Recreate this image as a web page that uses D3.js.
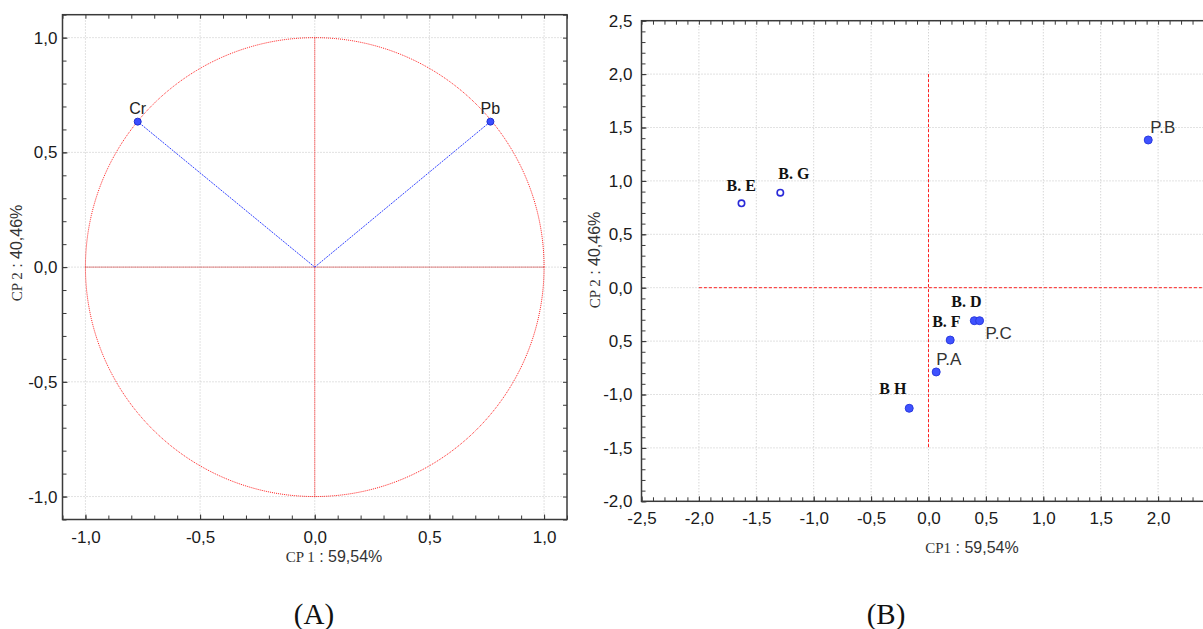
<!DOCTYPE html>
<html><head><meta charset="utf-8">
<script src="https://cdn.jsdelivr.net/npm/d3@7"></script>
<style>
body{margin:0;background:#fff;}
svg{display:block;}
</style></head>
<body><svg id="c" width="1203" height="629"></svg>
<script>
// ---------- DATA ----------
// Panel A: variable loadings (correlation circle)
const varNames = ["Cr", "Pb"];
const varCP1 = [-0.772, 0.766];
const varCP2 = [0.634, 0.634];
const leftTicks = [-1.0, -0.5, 0.0, 0.5, 1.0];
const leftTickLabels = ["-1,0", "-0,5", "0,0", "0,5", "1,0"];

// Panel B: sample scores
const sampleNames = ["B. E", "B. G", "P.B", "B. D", "P.C", "B. F", "P.A", "B H"];
const sampleCP1 = [-1.629, -1.291, 1.914, 0.399, 0.445, 0.189, 0.067, -0.168];
const sampleCP2 = [0.790, 0.890, 1.383, -0.309, -0.309, -0.490, -0.789, -1.129];
const sampleOpen = [true, true, false, false, false, false, false, false];
const sampleSerif = [true, true, false, true, false, true, false, true];
const rightXTicks = [-2.5, -2.0, -1.5, -1.0, -0.5, 0.0, 0.5, 1.0, 1.5, 2.0];
const rightXTickLabels = ["-2,5", "-2,0", "-1,5", "-1,0", "-0,5", "0,0", "0,5", "1,0", "1,5", "2,0"];
const rightYTicks = [-2.0, -1.5, -1.0, -0.5, 0.0, 0.5, 1.0, 1.5, 2.0, 2.5];
const rightYTickLabels = ["-2,0", "-1,5", "-1,0", "0,5", "0,0", "0,5", "1,0", "1,5", "2,0", "2,5"];

// ---------- LAYOUT / STYLE ----------
const labelOffsets = { // [dx, dy] of label anchor relative to point (text-anchor start, baseline)
  "B. E": [-15, -12], "B. G": [-2, -14], "P.B": [2, -7], "B. D": [-23, -14],
  "P.C": [6, 18], "B. F": [-18, -13], "P.A": [0, -7], "B H": [-30, -14]
};
const SANS = '"Liberation Sans",Arial,sans-serif';
const SERIF = '"Liberation Serif","Times New Roman",serif';
const svg = d3.select("#c");
const FRAME = "#3a3a3a", GRID = "#c4c4c4", RED = "#ff2020", BLUE = "#3344ff";

function grid(g, x, y, xMajor, yMajor) {
  const [x0, x1] = x.range(), [y0, y1] = y.range();
  g.append("g").selectAll("line").data(xMajor).join("line")
    .attr("x1", d => x(d)).attr("x2", d => x(d)).attr("y1", y0).attr("y2", y1)
    .attr("stroke", GRID).attr("stroke-dasharray", "1,2").attr("stroke-width", 1);
  g.append("g").selectAll("line").data(yMajor).join("line")
    .attr("y1", d => y(d)).attr("y2", d => y(d)).attr("x1", x0).attr("x2", x1)
    .attr("stroke", GRID).attr("stroke-dasharray", "1,2").attr("stroke-width", 1);
}

function drawAxes(g, x, y, opts) {
  const [x0, x1] = x.range(), [y0, y1] = y.range();
  const fmtX = d => opts.xLabels[opts.xTicks.indexOf(d)];
  const fmtY = d => opts.yLabels[opts.yTicks.indexOf(d)];
  const mk = (axis, tr) => g.append("g").attr("transform", tr).call(axis)
    .call(s => s.select(".domain").remove())
    .call(s => s.selectAll("line").attr("stroke", FRAME))
    .call(s => s.selectAll("text").remove());
  mk(d3.axisBottom(x).tickValues(opts.xMinor).tickSize(-4), `translate(0,${y0})`);
  mk(d3.axisTop(x).tickValues(opts.xMinor).tickSize(-4), `translate(0,${y1})`);
  mk(d3.axisLeft(y).tickValues(opts.yMinor).tickSize(-4), `translate(${x0},0)`);
  if (opts.rightSide) mk(d3.axisRight(y).tickValues(opts.yMinor).tickSize(-4), `translate(${x1},0)`);
  const lab = (axis, tr) => g.append("g").attr("transform", tr).call(axis)
    .call(s => s.select(".domain").remove())
    .call(s => s.selectAll("line").attr("stroke", FRAME))
    .call(s => s.selectAll("text").style("font-family", SANS)
      .style("font-size", opts.fs + "px").attr("fill", "#1a1a1a"));
  lab(d3.axisBottom(x).tickValues(opts.xTicks).tickSize(-5).tickPadding(opts.padX).tickFormat(fmtX), `translate(0,${y0})`);
  lab(d3.axisLeft(y).tickValues(opts.yTicks).tickSize(-5).tickPadding(opts.padY).tickFormat(fmtY), `translate(${x0},0)`);
  g.append("rect").attr("x", x0).attr("y", y1).attr("width", x1 - x0).attr("height", y0 - y1)
    .attr("fill", "none").attr("stroke", FRAME).attr("stroke-width", 1.5);
}

function mixedTitle(g, x, y, serifPart, sansPart, rotate, bg) {
  const t = g.append("text").attr("text-anchor", "middle")
    .attr("transform", `translate(${x},${y})` + (rotate ? " rotate(-90)" : ""));
  t.append("tspan").style("font-family", SERIF).style("font-size", "15px")
    .attr("fill", "#333").text(serifPart);
  t.append("tspan").style("font-family", SANS).style("font-size", "16px")
    .attr("fill", "#333").text(sansPart);
  if (bg) {
    const b = t.node().getBBox();
    g.insert("rect", () => t.node()).attr("transform", t.attr("transform"))
      .attr("x", b.x - 1).attr("y", b.y + 3).attr("width", b.width + 2).attr("height", b.height - 5)
      .attr("fill", "#fff");
  }
  return t;
}

// ---------- PANEL A ----------
{
  const g = svg.append("g");
  const x = d3.scaleLinear().domain([-1.1, 1.1]).range([62.5, 567]);
  const y = d3.scaleLinear().domain([-1.1, 1.1]).range([519.5, 14.7]);
  const minor = d3.range(-11, 12).map(i => i / 10);
  grid(g, x, y, leftTicks, leftTicks);
  const circ = d3.range(0, 361, 1).map(a => [Math.cos(a * Math.PI / 180), Math.sin(a * Math.PI / 180)]);
  g.append("path").attr("d", d3.line().x(d => x(d[0])).y(d => y(d[1]))(circ))
    .attr("fill", "none").attr("stroke", RED).attr("stroke-width", 1).attr("stroke-dasharray", "1,1");
  g.append("line").attr("x1", x(-1)).attr("x2", x(1)).attr("y1", y(0)).attr("y2", y(0))
    .attr("stroke", "#c81010").attr("stroke-dasharray", "1,1");
  g.append("line").attr("x1", x(0)).attr("x2", x(0)).attr("y1", y(1)).attr("y2", y(-1))
    .attr("stroke", RED).attr("stroke-dasharray", "1,1");
  g.append("g").selectAll("line").data(varNames).join("line")
    .attr("x1", x(0)).attr("y1", y(0))
    .attr("x2", (d, i) => x(varCP1[i])).attr("y2", (d, i) => y(varCP2[i]))
    .attr("stroke", BLUE).attr("stroke-width", 1).attr("stroke-dasharray", "2,1");
  g.append("g").selectAll("circle").data(varNames).join("circle")
    .attr("cx", (d, i) => x(varCP1[i])).attr("cy", (d, i) => y(varCP2[i])).attr("r", 3.5)
    .attr("fill", "#3b4dff").attr("stroke", "#1f2fd0").attr("stroke-width", 1);
  g.append("g").selectAll("text").data(varNames).join("text")
    .attr("x", (d, i) => x(varCP1[i])).attr("y", (d, i) => y(varCP2[i]) - 8)
    .attr("text-anchor", "middle").style("font-family", SANS).style("font-size", "16px")
    .attr("fill", "#222").text(d => d);
  drawAxes(g, x, y, {
    xTicks: leftTicks, yTicks: leftTicks, xLabels: leftTickLabels, yLabels: leftTickLabels,
    xMinor: minor, yMinor: minor, rightSide: true, fs: 17, padX: 11, padY: 5
  });
  mixedTitle(g, 334, 562, "CP 1", " : 59,54%", false);
  mixedTitle(g, 22, 253, "CP 2", " : 40,46%", true);
  g.append("text").attr("x", 314).attr("y", 624).attr("text-anchor", "middle")
    .style("font-family", SERIF).style("font-size", "29px")
    .attr("fill", "#111").text("(A)");
}

// ---------- PANEL B ----------
{
  const g = svg.append("g");
  const x = d3.scaleLinear().domain([-2.5, 2.5]).range([641.5, 1215.5]);
  const y = d3.scaleLinear().domain([-2.0, 2.5]).range([501.3, 20.7]);
  const xMinor = d3.range(-25, 26).map(i => i / 10);
  const yMinor = d3.range(-20, 26).map(i => i / 10);
  grid(g, x, y, rightXTicks, rightYTicks);
  g.append("line").attr("x1", x(-2)).attr("x2", x(2.5)).attr("y1", y(0)).attr("y2", y(0))
    .attr("stroke", RED).attr("stroke-width", 1).attr("stroke-dasharray", "3,2");
  g.append("line").attr("x1", x(0)).attr("x2", x(0)).attr("y1", y(2)).attr("y2", y(-1.5))
    .attr("stroke", RED).attr("stroke-width", 1).attr("stroke-dasharray", "3,2");
  g.append("g").selectAll("circle").data(sampleNames).join("circle")
    .attr("cx", (d, i) => x(sampleCP1[i])).attr("cy", (d, i) => y(sampleCP2[i]))
    .attr("r", (d, i) => sampleOpen[i] ? 3.2 : 4)
    .attr("fill", (d, i) => sampleOpen[i] ? "#fff" : "#3f52ff")
    .attr("stroke", (d, i) => sampleOpen[i] ? "#2a2ad8" : "#2a3ae0")
    .attr("stroke-width", (d, i) => sampleOpen[i] ? 1.6 : 1);
  g.append("g").selectAll("text").data(sampleNames).join("text")
    .attr("x", (d, i) => x(sampleCP1[i]) + labelOffsets[d][0])
    .attr("y", (d, i) => y(sampleCP2[i]) + labelOffsets[d][1])
    .style("font-family", (d, i) => sampleSerif[i] ? SERIF : SANS)
    .style("font-weight", (d, i) => sampleSerif[i] ? "bold" : "normal")
    .style("font-size", (d, i) => sampleSerif[i] ? "16px" : "17px")
    .attr("fill", (d, i) => sampleSerif[i] ? "#111" : "#333")
    .text(d => d);
  drawAxes(g, x, y, {
    xTicks: rightXTicks, yTicks: rightYTicks, xLabels: rightXTickLabels, yLabels: rightYTickLabels,
    xMinor: xMinor, yMinor: yMinor, rightSide: false, fs: 17, padX: 11, padY: 9
  });
  mixedTitle(g, 972, 553, "CP1", " : 59,54%", false);
  mixedTitle(g, 600, 260, "CP 2", " : 40,46%", true, true);
  g.append("text").attr("x", 886).attr("y", 624).attr("text-anchor", "middle")
    .style("font-family", SERIF).style("font-size", "29px")
    .attr("fill", "#111").text("(B)");
}
</script></body></html>
